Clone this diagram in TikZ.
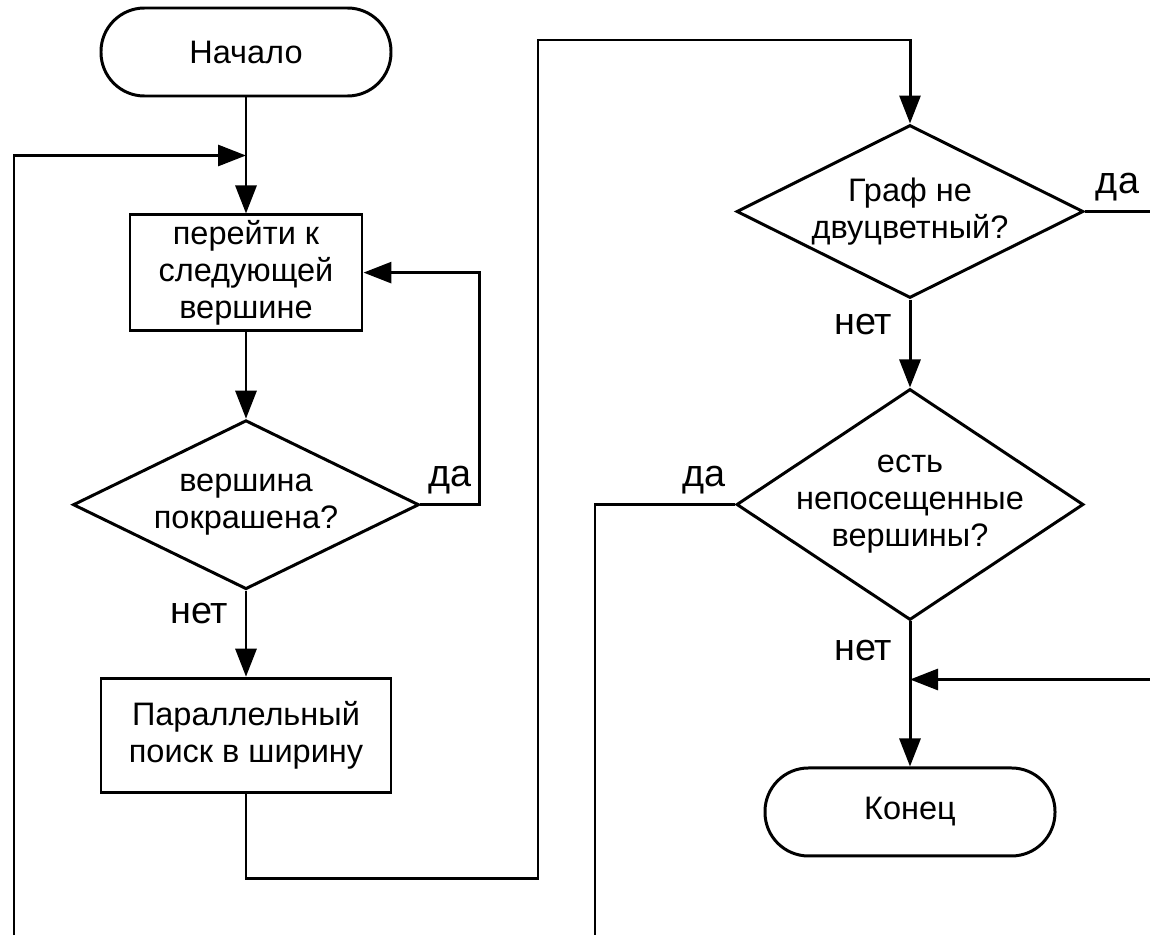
\documentclass[tikz,border=0pt]{standalone}
\usepackage{fontspec}
\setmainfont{Liberation Sans}
\usepackage{tikz}
\usetikzlibrary{positioning,arrows.meta,shapes.geometric,calc}
\tikzset{
	every node/.style = {font=\fontsize{18.5}{21}\selectfont, inner sep = 3pt},
	>={Triangle[length=5.6mm,width=4.2mm]}
}

\begin{document}
\begin{tikzpicture}[every text node part/.style={align=center}, line width=1.7pt,
		terminal/.style={draw, rectangle, rounded corners=8.7mm, minimum width=5.8cm, minimum height=1.76cm},
		process/.style={draw, rectangle, minimum height=2.3cm},
		decision/.style={draw, diamond, inner sep=0pt},
		answer/.style={font=\fontsize{21.5}{24}\selectfont}]

	\useasboundingbox (0,0) rectangle (23,-18.7);

	\node[terminal] (start) at (4.92,-1.04) {Начало};
	\node[process, minimum width=4.64cm, below=2.32cm of start] (next) {перейти к\\следующей\\вершине};
	\node[decision, minimum width=6.92cm, minimum height=3.38cm, below=1.74cm of next,
		label=center:{вершина\\покрашена?}] (painted) {};
	\node[process, minimum width=5.8cm, minimum height=2.28cm, below=1.72cm of painted] (bfs) {Параллельный\\поиск в ширину};

	\node[decision, minimum width=6.94cm, minimum height=3.46cm,
		label=center:{Граф не\\двуцветный?}] (bicolor) at (18.2,-4.23) {};
	\node[decision, minimum width=6.94cm, minimum height=4.62cm, below=1.76cm of bicolor,
		label=center:{есть\\непосещенные\\вершины?}] (unvisited) {};
	\node[terminal, below=2.9cm of unvisited] (end) {Конец};

	\coordinate (merge1) at ($(start.south)!0.5!(next.north)$);
	\coordinate (merge2) at ($(unvisited.south)!0.4!(end.north)$);
	\coordinate (loopin) at (0.28,-18.7);
	\coordinate (loopout) at (11.9,-18.7);
	\coordinate (jump) at (10.76,-0.8);
	\coordinate (edge) at (23,0);

	\draw[->] (start) -- (next);
	\draw[->] (loopin) |- (merge1);
	\draw[->] (next) -- (painted);
	\draw[->] (painted.east) -- node[answer, above=0.08cm]{да} ++(1.18,0) |- (next.east);
	\draw[->] (painted) -- node[answer, left=0.22cm, pos=0.26]{нет} (bfs);
	\draw[->] (bfs.south) -- ++(0,-1.7) -| (jump) -| (bicolor.north);

	\draw (bicolor.east) -- node[answer, above=0.08cm]{да} (bicolor.east -| edge);
	\draw[->] (bicolor) -- node[answer, left=0.22cm, pos=0.28]{нет} (unvisited);
	\draw (unvisited.west) -- node[answer, above=0.08cm, pos=0.22]{да} (unvisited.west -| loopout) -- (loopout);
	\draw[->] (unvisited) -- node[answer, left=0.22cm, pos=0.2]{нет} (end);
	\draw[->] (merge2 -| edge) -- (merge2);
\end{tikzpicture}
\end{document}
